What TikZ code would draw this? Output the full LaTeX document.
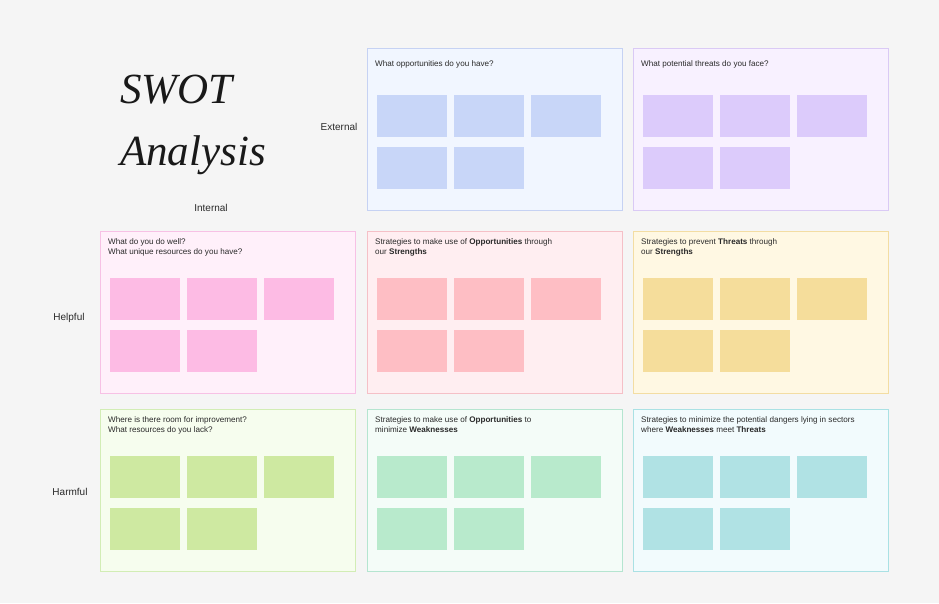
\documentclass[tikz,border=0pt]{standalone}
\usepackage{fontspec}
\setmainfont{Liberation Sans}
\newfontfamily\titlefont{Liberation Serif}
\definecolor{bg}{HTML}{F5F5F5}
\definecolor{txt}{HTML}{2A2A2A}
% O
\definecolor{oFill}{HTML}{F1F6FF}\definecolor{oLine}{HTML}{C6D2F3}\definecolor{oNote}{HTML}{C8D6F8}
% T
\definecolor{tFill}{HTML}{F8F1FF}\definecolor{tLine}{HTML}{DACAF5}\definecolor{tNote}{HTML}{DCCBFB}
% S
\definecolor{sFill}{HTML}{FFF0FA}\definecolor{sLine}{HTML}{F7C1E5}\definecolor{sNote}{HTML}{FDBBE4}
% SO
\definecolor{soFill}{HTML}{FFEEF1}\definecolor{soLine}{HTML}{F5C0C7}\definecolor{soNote}{HTML}{FEBEC4}
% ST
\definecolor{stFill}{HTML}{FFF8E3}\definecolor{stLine}{HTML}{F3DDA3}\definecolor{stNote}{HTML}{F5DD9B}
% W
\definecolor{wFill}{HTML}{F6FDEE}\definecolor{wLine}{HTML}{D2EDB5}\definecolor{wNote}{HTML}{CEE9A1}
% WO
\definecolor{woFill}{HTML}{F4FCF8}\definecolor{woLine}{HTML}{B5E5D0}\definecolor{woNote}{HTML}{B8EACC}
% WT
\definecolor{wtFill}{HTML}{F2FBFD}\definecolor{wtLine}{HTML}{AAE1E4}\definecolor{wtNote}{HTML}{B0E2E4}
\tikzset{
  panelbox/.style={rectangle, minimum width=255pt, minimum height=162pt, inner sep=0pt, outer sep=0pt, line width=1pt},
  sticky/.style={rectangle, minimum width=70pt, minimum height=42pt, inner sep=0pt, outer sep=0pt, draw=none},
  hdr/.style={inner sep=0pt, font=\fontsize{8.1}{10}\selectfont, text=txt, align=left},
  axislabel/.style={inner sep=0pt, font=\fontsize{10}{12}\selectfont, text=txt},
  title/.style={inner sep=0pt, font=\titlefont\itshape\fontsize{43}{62}\selectfont, text=black!90, align=left}
}
\newcommand{\swotpanel}[6]{%
  \node[panelbox, fill=#4, draw=#5] (#1) at (#2+127.5, #3+81) {};
  \foreach \i/\dx/\dy in {1/45/68, 2/122/68, 3/199/68, 4/45/120, 5/122/120}
    \node[sticky, fill=#6] (#1-\i) at ([xshift=\dx pt, yshift=-\dy pt]#1.north west) {};
}
\begin{document}
\begin{tikzpicture}[x=1pt, y=-1pt]
\path[use as bounding box, fill=bg] (0,0) rectangle (939,603);

\node[title, anchor=north west] (title) at (120,75) {SWOT\\Analysis};

\node[axislabel] (ext) at (339,127) {External};
\node[axislabel] (int) at (211,208) {Internal};
\node[axislabel] (help) at (69,318) {Helpful};
\node[axislabel] (harm) at (70,492) {Harmful};

\swotpanel{O}{367}{48}{oFill}{oLine}{oNote}
\swotpanel{T}{633}{48}{tFill}{tLine}{tNote}
\swotpanel{S}{100}{231}{sFill}{sLine}{sNote}
\swotpanel{SO}{367}{231}{soFill}{soLine}{soNote}
\swotpanel{ST}{633}{231}{stFill}{stLine}{stNote}
\swotpanel{W}{100}{409}{wFill}{wLine}{wNote}
\swotpanel{WO}{367}{409}{woFill}{woLine}{woNote}
\swotpanel{WT}{633}{409}{wtFill}{wtLine}{wtNote}

\node[hdr, anchor=base west] (O-t) at ([xshift=8pt, yshift=-18.5pt]O.north west) {What opportunities do you have?};
\node[hdr, anchor=base west] (T-t) at ([xshift=8pt, yshift=-18.5pt]T.north west) {What potential threats do you face?};
\node[hdr, anchor=north west] (S-t) at ([xshift=8pt, yshift=-7.5pt]S.north west) {What do you do well?\\What unique resources do you have?};
\node[hdr, anchor=north west] (SO-t) at ([xshift=8pt, yshift=-7.5pt]SO.north west) {Strategies to make use of \textbf{Opportunities} through\\our \textbf{Strengths}};
\node[hdr, anchor=north west] (ST-t) at ([xshift=8pt, yshift=-7.5pt]ST.north west) {Strategies to prevent \textbf{Threats} through\\our \textbf{Strengths}};
\node[hdr, anchor=north west] (W-t) at ([xshift=8pt, yshift=-7.5pt]W.north west) {Where is there room for improvement?\\What resources do you lack?};
\node[hdr, anchor=north west] (WO-t) at ([xshift=8pt, yshift=-7.5pt]WO.north west) {Strategies to make use of \textbf{Opportunities} to\\minimize \textbf{Weaknesses}};
\node[hdr, anchor=north west] (WT-t) at ([xshift=8pt, yshift=-7.5pt]WT.north west) {Strategies to minimize the potential dangers lying in sectors\\where \textbf{Weaknesses} meet \textbf{Threats}};
\end{tikzpicture}
\end{document}
